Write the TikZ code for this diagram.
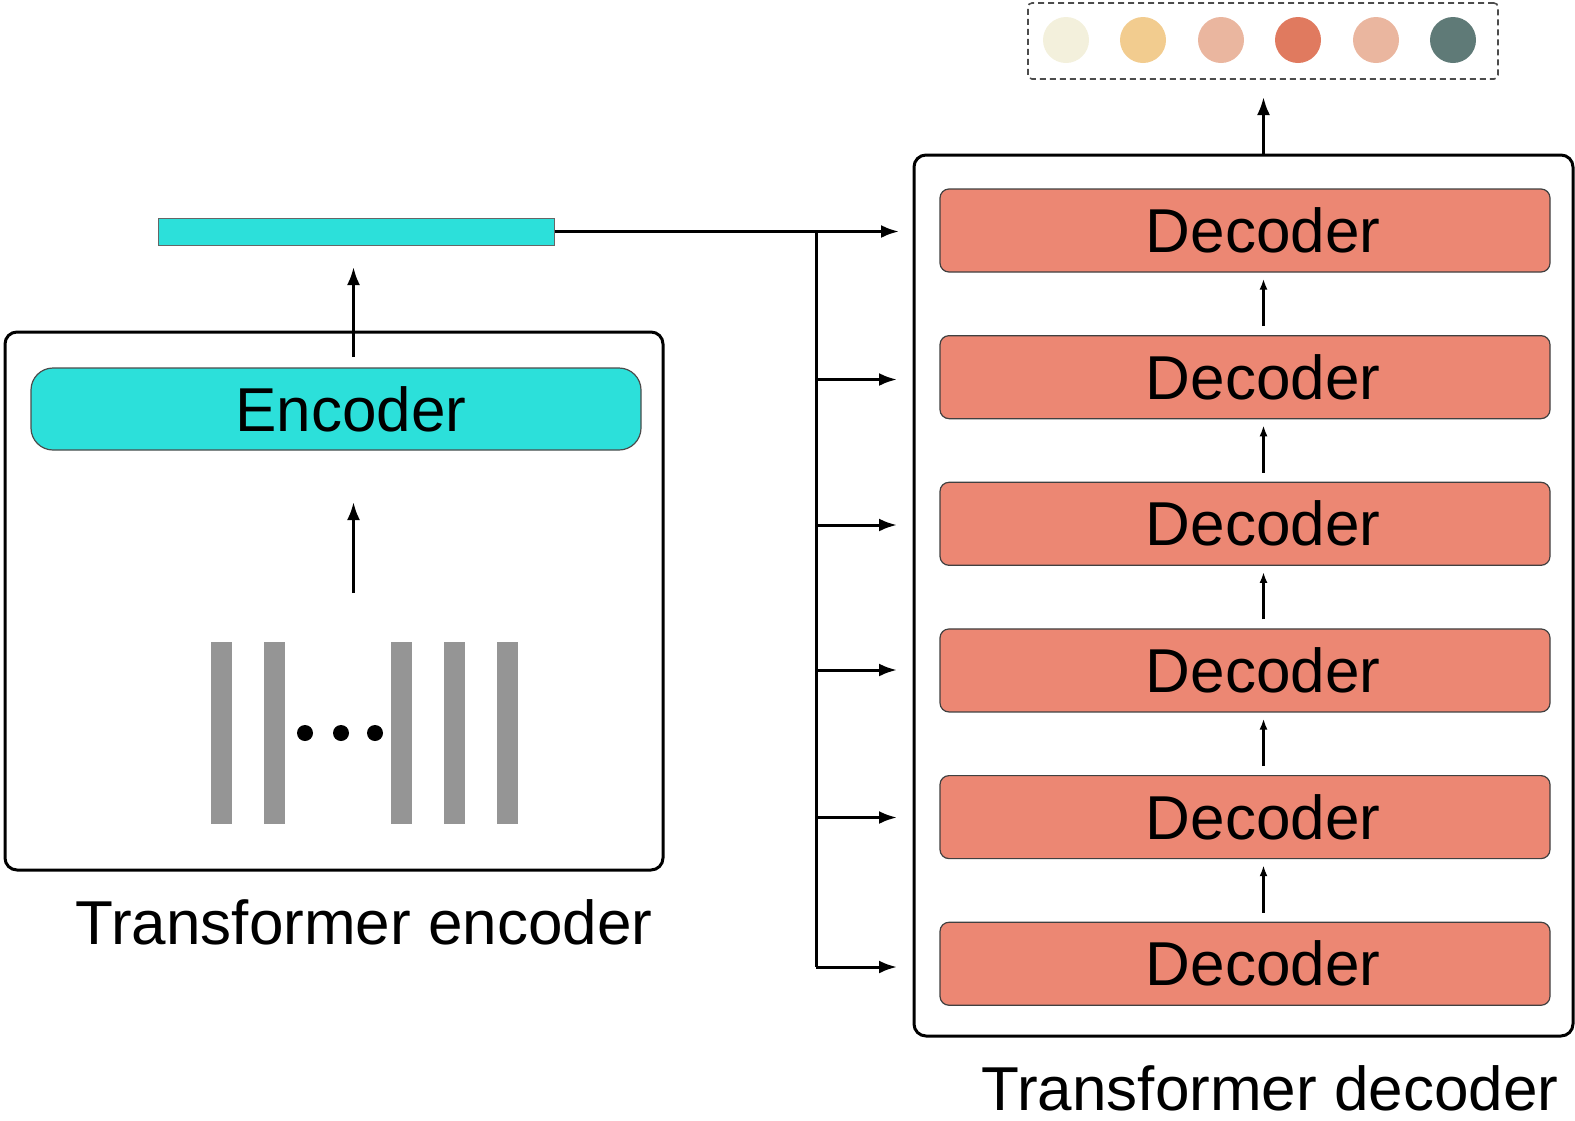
\documentclass[tikz,border=0pt]{standalone}
\usepackage{fontspec}
\setmainfont{Liberation Sans}
\usetikzlibrary{arrows.meta}
\definecolor{enccyan}{HTML}{2CE0DA}
\definecolor{decsalmon}{HTML}{EC8773}
\definecolor{tokengray}{HTML}{959595}
\definecolor{outA}{HTML}{F3F0DC}
\definecolor{outB}{HTML}{F2CC8F}
\definecolor{outC}{HTML}{EAB69F}
\definecolor{outD}{HTML}{E07A5F}
\definecolor{outE}{HTML}{5F7A77}
\newcommand\biglabel{\fontsize{62}{70}\selectfont}
\begin{document}
\begin{tikzpicture}[x=1pt,y=-1pt,
  frame/.style={draw=black, line width=3pt, rounded corners=12pt},
  encbox/.style={draw=black!70, line width=1.2pt, fill=enccyan, rounded corners=22pt,
    minimum width=610pt, minimum height=82pt, inner sep=0pt, font=\biglabel},
  decbox/.style={draw=black!75, line width=1.2pt, fill=decsalmon, rounded corners=9pt,
    minimum width=610pt, minimum height=83pt, inner sep=0pt, font=\biglabel},
  token/.style={fill=tokengray, minimum width=21pt, minimum height=182pt, inner sep=0pt},
  dot/.style={circle, fill=black, minimum size=16pt, inner sep=0pt},
  outdot/.style={circle, minimum size=46pt, inner sep=0pt},
  arr/.style={line width=3pt, -{Latex[length=18pt,width=13pt]}},
  smallarr/.style={line width=2.2pt, -{Latex[length=11pt,width=8pt]}},
  wire/.style={line width=3pt},
  caption/.style={font=\biglabel, anchor=base, inner sep=0pt}]
\useasboundingbox (0,0) rectangle (1575,1120);

% ---- encoder side ----
\draw[frame] (5,332) rectangle (663,870);
\node[encbox] (enc) at (336,409) {\hspace*{30pt}Encoder};
\node[caption] (enccap) at (364,944) {Transformer encoder};

% input tokens
\node[token] (tk1) at (221,733) {};
\node[token] (tk2) at (274,733) {};
\node[token] (tk3) at (401,733) {};
\node[token] (tk4) at (454.5,733) {};
\node[token] (tk5) at (507.5,733) {};
\node[dot] (d1) at (305,733) {};
\node[dot] (d2) at (341,733) {};
\node[dot] (d3) at (375,733) {};

\coordinate (tokout) at (353.5,593);
\coordinate (encin) at (353.5,502);
\draw[arr] (tokout) -- (encin);

% encoder output vector
\node[draw=black!60, line width=1pt, fill=enccyan, minimum width=396pt, minimum height=27pt,
  inner sep=0pt] (bar) at (356,231.5) {};
\coordinate (encout) at (353.5,357);
\coordinate (barin) at (353.5,267);
\draw[arr] (encout) -- (barin);

% ---- decoder side ----
\draw[frame] (914,155) rectangle (1573,1036);
\foreach \k/\yy in {0/230.5, 1/377.15, 2/523.8, 3/670.45, 4/817.1, 5/963.75}
  \node[decbox] (dec\k) at (1245,\yy) {\hspace*{36pt}Decoder};
\node[caption] (deccap) at (1270,1110) {Transformer decoder};

% decoder-to-decoder arrows
\foreach \lo/\hi in {1/0, 2/1, 3/2, 4/3, 5/4}
  \draw[smallarr] ([yshift=9pt]dec\lo.north -| 1263.5,0) -- ([yshift=-6pt]dec\hi.south -| 1263.5,0);

% memory feed from the encoder output to every decoder layer
\coordinate (spinetop) at (816,231.5);
\coordinate (spinebot) at (816,967);
\coordinate (m0) at (899,231.5);
\coordinate (m1) at (897,379.5);
\coordinate (m2) at (897,525);
\coordinate (m3) at (897,670);
\coordinate (m4) at (897,817.5);
\coordinate (m5) at (897,967);
\draw[arr] (bar.east) -- (m0);
\draw[wire] (spinetop) -- (spinebot);
\foreach \k in {1,...,5}
  \draw[arr] (m\k -| spinetop) -- (m\k);

% output tokens
\node[draw=black!70, dashed, line width=1.6pt, dash pattern=on 6pt off 4pt, rounded corners=4pt,
  minimum width=470pt, minimum height=76pt, inner sep=0pt] (outbox) at (1263,41) {};
\node[outdot, fill=outA] (o1) at (1066,40) {};
\node[outdot, fill=outB] (o2) at (1143,40) {};
\node[outdot, fill=outC] (o3) at (1221,40) {};
\node[outdot, fill=outD] (o4) at (1298,40) {};
\node[outdot, fill=outC] (o5) at (1376,40) {};
\node[outdot, fill=outE] (o6) at (1453,40) {};
\coordinate (decout) at (1263.5,155);
\coordinate (outin) at (1263.5,97);
\draw[arr] (decout) -- (outin);
\end{tikzpicture}
\end{document}
